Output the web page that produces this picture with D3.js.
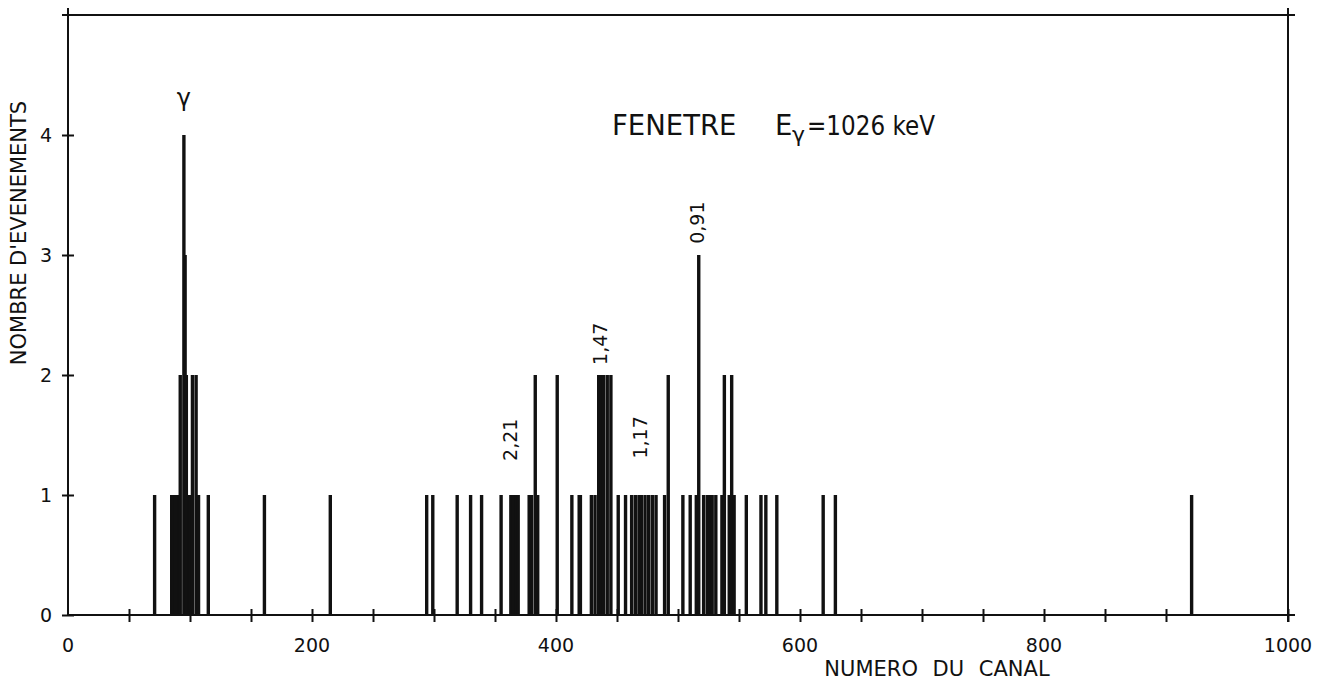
<!DOCTYPE html>
<html><head><meta charset="utf-8">
<script src="https://cdn.jsdelivr.net/npm/d3@7"></script>
<style>
body{margin:0;background:#fff}
svg{display:block}
text{font-family:"DejaVu Sans",sans-serif;fill:#111}
</style>
</head><body>
<svg id="chart" width="1324" height="687"></svg>
<script>
// Channel numbers and number of events in each channel
const channels = [71,
  85,86,88,89,91,92,95,96,97,99,100,102,105,107,115,
  161,215,
  294,299,319,330,339,
  355,363,365,367,369,378,380,383,385,401,
  413,419,420,429,432,435,437,439,442,445,
  451,457,462,465,468,470,473,476,479,482,
  489,492,504,510,515,517,521,524,526,528,531,
  536,538,542,544,546,556,568,572,581,
  619,629,921];
const counts = [1,
  1,1,1,1,1,2,4,3,2,1,1,2,2,1,1,
  1,1,
  1,1,1,1,1,
  1,1,1,1,1,1,1,2,1,2,
  1,1,1,1,1,2,2,2,2,2,
  1,1,1,1,1,1,1,1,1,1,
  1,2,1,1,1,3,1,1,1,1,1,
  1,2,1,2,1,1,1,1,1,
  1,1,1];

const xTickValues = [50,100,150,200,250,300,350,400,450,500,550,600,650,700,750,800,850,900,1000];
const xTickLabels = [0,200,400,600,800,1000];
const yTickValues = [0,1,2,3,4];

// Peak annotations: text, channel, level (in events)
const peakTexts = ["0,91","1,47","2,21","1,17"];
const peakChannels = [515.5, 436, 362.5, 469];
const peakLevels = [3.27, 2.26, 1.46, 1.48];

const xTitle = "NUMERO DU CANAL";
const yTitle = "NOMBRE D'EVENEMENTS";

const svg = d3.select("#chart");
svg.append("rect").attr("width",1324).attr("height",687).attr("fill","#fff");

const x = d3.scaleLinear().domain([0,1000]).range([68,1288]);
const y = d3.scaleLinear().domain([0,5]).range([615,15]);

const ink = "#111";

// Bars
svg.append("g").selectAll("line").data(channels).join("line")
  .attr("x1", d=>x(d)).attr("x2", d=>x(d))
  .attr("y1", y(0)).attr("y2", (d,i)=>y(counts[i]))
  .attr("stroke", ink).attr("stroke-width", 3.4);

// Frame lines
const frame = svg.append("g").attr("stroke", ink).attr("stroke-width", 2).attr("fill","none");
frame.append("line").attr("x1", x(0)).attr("x2", x(0)).attr("y1", y(5)-7).attr("y2", y(0));
frame.append("line").attr("x1", x(0)-6).attr("x2", x(1000)+7).attr("y1", y(5)).attr("y2", y(5));
frame.append("line").attr("x1", x(1000)).attr("x2", x(1000)).attr("y1", y(5)-7).attr("y2", y(0)+7);
frame.append("line").attr("x1", x(0)).attr("x2", x(1000)+7).attr("y1", y(0)).attr("y2", y(0));

// X axis ticks
const xAxis = d3.axisBottom(x).tickValues(xTickValues).tickSizeInner(0).tickSizeOuter(0).tickFormat("");
const gx = svg.append("g").attr("transform", `translate(0,${y(0)})`).call(xAxis);
gx.select(".domain").remove();
gx.selectAll(".tick line").attr("y1",-6).attr("y2",7).attr("stroke",ink).attr("stroke-width",2);
svg.append("g").selectAll("text").data(xTickLabels).join("text")
  .attr("x", d=>x(d)).attr("y", 652).attr("text-anchor","middle")
  .attr("font-size",19).text(d=>d);

// Y axis ticks
const yAxis = d3.axisLeft(y).tickValues(yTickValues).tickSizeInner(0).tickSizeOuter(0).tickFormat("");
const gy = svg.append("g").attr("transform", `translate(${x(0)},0)`).call(yAxis);
gy.select(".domain").remove();
gy.selectAll(".tick line").attr("x1",-6).attr("x2",6).attr("stroke",ink).attr("stroke-width",2);
svg.append("g").selectAll("text").data(yTickValues).join("text")
  .attr("x", 52).attr("y", d=>y(d)+7).attr("text-anchor","end")
  .attr("font-size",19).text(d=>d);

// Axis titles
svg.append("text").attr("x", 937).attr("y", 676).attr("text-anchor","middle")
  .attr("font-size",21).attr("word-spacing",8).text(xTitle);
svg.append("text").attr("transform","translate(26,233) rotate(-90)").attr("text-anchor","middle")
  .attr("font-size",21).text(yTitle);

// Title
svg.append("text").attr("x", 612).attr("y", 135).attr("font-size",27.5).text("FENETRE");
svg.append("text").attr("x", 775).attr("y", 135).attr("font-size",27.5).text("E");
svg.append("text").attr("x", 792).attr("y", 142).attr("font-size",22).text("γ");
svg.append("text").attr("x", 807).attr("y", 135).attr("font-size",26)
  .attr("textLength",128).attr("lengthAdjust","spacingAndGlyphs").text("=1026 keV");

// Gamma label above main peak
svg.append("text").attr("x", x(95)).attr("y", y(4)-29).attr("text-anchor","middle")
  .attr("font-size",24).text("γ");

// Peak energy annotations (rotated)
svg.append("g").selectAll("text").data(peakTexts).join("text")
  .attr("transform", (d,i)=>`translate(${x(peakChannels[i])+7},${y(peakLevels[i])}) rotate(-90)`)
  .attr("text-anchor","middle").attr("font-size",19).text(d=>d);
</script>
</body></html>
